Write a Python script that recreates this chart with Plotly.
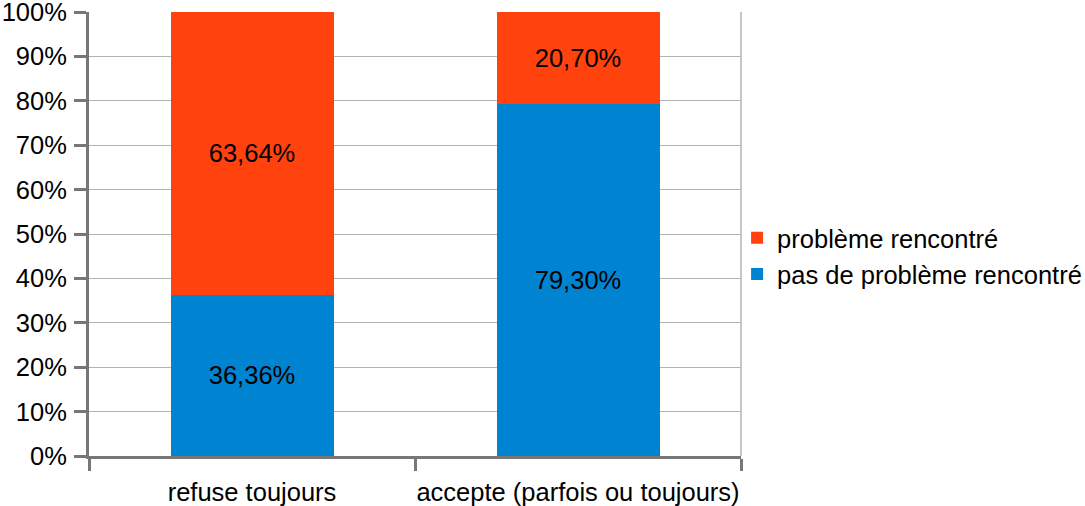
import plotly.graph_objects as go

categories = ["refuse toujours", "accepte (parfois ou toujours)"]
pas_probleme = [36.36, 79.30]
probleme = [63.64, 20.70]
y_ticks = [0, 10, 20, 30, 40, 50, 60, 70, 80, 90, 100]

FONT = "Liberation Sans, Arial, sans-serif"
FS = 25.5
AXIS_COLOR = "#777777"
GRID_COLOR = "#b3b3b3"

fig = go.Figure()
fig.add_trace(go.Bar(
    x=categories, y=pas_probleme, name="pas de problème rencontré",
    legendgroup="a",
    marker=dict(color="#0084d1", line=dict(width=0)),
    texttemplate="%{y:.2f}%", textposition="inside", insidetextanchor="middle",
    textfont=dict(color="black", size=FS, family=FONT), width=0.5,
))
fig.add_trace(go.Bar(
    x=categories, y=probleme, name="problème rencontré",
    legendgroup="b",
    marker=dict(color="#ff420e", line=dict(width=0)),
    texttemplate="%{y:.2f}%", textposition="inside", insidetextanchor="middle",
    textfont=dict(color="black", size=FS, family=FONT), width=0.5,
))

fig.update_layout(
    barmode="stack",
    width=1085, height=506,
    margin=dict(l=89, r=344, t=12, b=50, autoexpand=False),
    paper_bgcolor="white", plot_bgcolor="white",
    separators=", ",
    font=dict(family=FONT, size=FS, color="black"),
    legend=dict(x=0.994, xanchor="left", y=0.45, yanchor="middle",
                traceorder="reversed", font=dict(size=FS, family=FONT),
                itemsizing="constant", tracegroupgap=6, bgcolor="rgba(0,0,0,0)"),
    uniformtext=dict(mode="show", minsize=10),
    shapes=[dict(type="line", xref="paper", yref="paper", x0=1, x1=1, y0=0, y1=1,
                 line=dict(color=GRID_COLOR, width=1.5), layer="below")],
)
fig.update_yaxes(
    range=[0, 100], tickvals=y_ticks, ticktext=[f"{v}%" for v in y_ticks],
    showgrid=True, gridcolor=GRID_COLOR, gridwidth=1,
    showline=True, linecolor=AXIS_COLOR, linewidth=3,
    ticks="outside", ticklen=12, tickwidth=3, tickcolor=AXIS_COLOR,
    tickfont=dict(size=FS, family=FONT, color="black"), zeroline=False,
    automargin=False, ticklabeloverflow="allow", ticklabelstandoff=2,
)
fig.update_xaxes(
    range=[-0.5, 1.5], tickson="boundaries", tickangle=0,
    showgrid=False,
    showline=True, linecolor=AXIS_COLOR, linewidth=3,
    ticks="outside", ticklen=12, tickwidth=3, tickcolor=AXIS_COLOR,
    tickfont=dict(size=FS, family=FONT, color="black"),
    automargin=False, ticklabeloverflow="allow", ticklabelstandoff=11,
)

fig.write_html("out.html", config={"displayModeBar": False},
               post_script="document.body.style.margin='0';")
